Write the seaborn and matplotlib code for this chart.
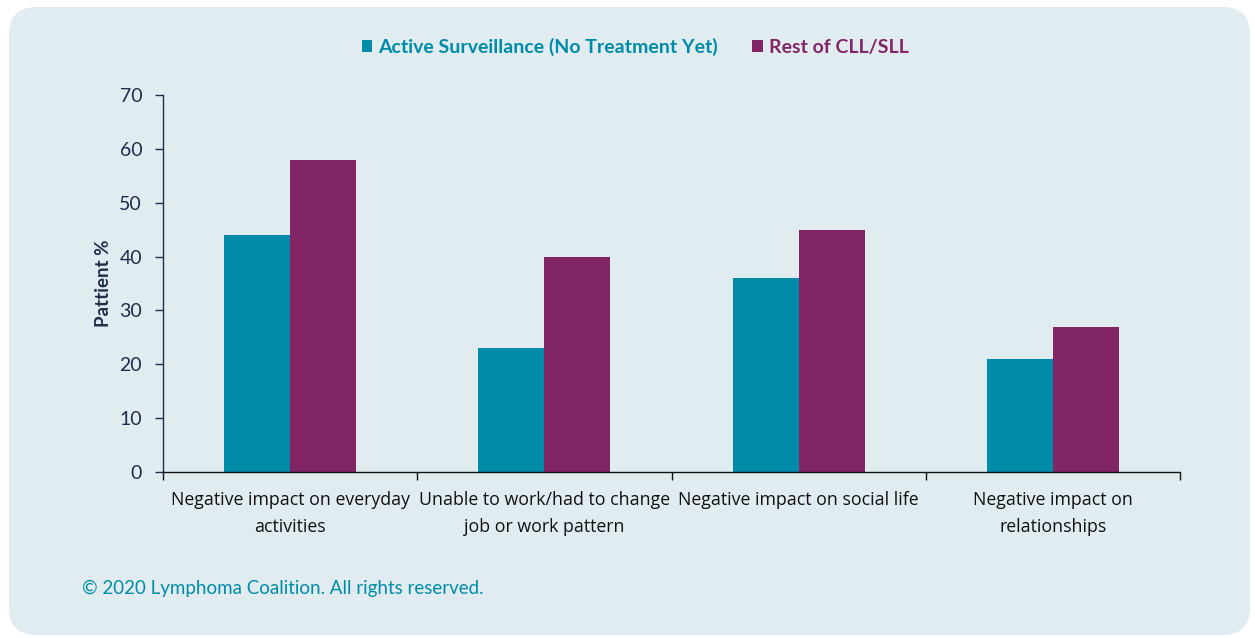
import pandas as pd
import seaborn as sns
import matplotlib.pyplot as plt
from matplotlib.patches import FancyBboxPatch, Patch

categories = [
    "Negative impact on everyday\nactivities",
    "Unable to work/had to change\njob or work pattern",
    "Negative impact on social life",
    "Negative impact on\nrelationships",
]
groups = ["Active Surveillance (No Treatment Yet)", "Rest of CLL/SLL"]
active_surveillance = [44, 23, 36, 21]
rest_of_cll = [58, 40, 45, 27]

teal = "#008ca8"
purple = "#822565"
panel_bg = "#e1ecf1"
navy = "#1f2d4a"

df = pd.DataFrame({
    "category": categories * 2,
    "group": [groups[0]] * 4 + [groups[1]] * 4,
    "value": active_surveillance + rest_of_cll,
})

sns.set_style("white")
plt.rcParams["font.family"] = ["Lato", "DejaVu Sans"]

fig = plt.figure(figsize=(12.55, 6.38), dpi=100)
fig.patch.set_facecolor("white")

# rounded light panel behind everything
panel = FancyBboxPatch((9 / 1255, 3 / 638), 1241 / 1255, 628 / 638,
                       boxstyle="round,pad=0,rounding_size=0.022",
                       transform=fig.transFigure, facecolor=panel_bg,
                       edgecolor="none", zorder=-10,
                       mutation_aspect=1255 / 638)
fig.patches.append(panel)

ax = fig.add_axes([163 / 1255, 1 - 472 / 638, 1017 / 1255, 377 / 638])
ax.set_facecolor("none")
ax.set_zorder(5)

sns.barplot(data=df, x="category", y="value", hue="group",
            palette=[teal, purple], width=0.52, saturation=1,
            linewidth=0, legend=False, ax=ax)

ax.set_xlim(-0.5, 3.5)
ax.set_ylim(0, 70)
ax.set_yticks(range(0, 71, 10))
ax.tick_params(axis="y", direction="out", length=6, width=1, color=navy,
               labelsize=14, labelcolor=navy, pad=9, left=True)
ax.set_xticks(range(4))
ax.set_xticklabels(categories, fontsize=12.8, color="#111111", linespacing=1.6)
ax.tick_params(axis="x", length=0, pad=14)
ax.set_xticks([-0.5, 0.5, 1.5, 2.5, 3.5], minor=True)
ax.tick_params(axis="x", which="minor", direction="out", length=6,
               width=1, color="#111111", bottom=True)
for lab in ax.get_xticklabels():
    lab.set_fontfamily(["Open Sans", "DejaVu Sans"])

ax.set_xlabel("")
ax.set_ylabel("Pattient %", fontsize=13.5, fontweight="bold", color=navy,
              labelpad=5)

for side in ["top", "right"]:
    ax.spines[side].set_visible(False)
ax.spines["left"].set_color(navy)
ax.spines["bottom"].set_color("#111111")
ax.spines["left"].set_linewidth(1)
ax.spines["bottom"].set_linewidth(1)

handles = [Patch(facecolor=teal, edgecolor="none"),
           Patch(facecolor=purple, edgecolor="none")]
leg = fig.legend(handles, groups, loc="center", bbox_to_anchor=(635 / 1255, 1 - 47 / 638),
                 ncol=2, frameon=False, handlelength=0.55, handleheight=0.55,
                 handletextpad=0.3, columnspacing=1.75,
                 prop={"weight": "bold", "size": 14})
for txt, col in zip(leg.get_texts(), [teal, purple]):
    txt.set_color(col)

fig.text(82 / 1255, 1 - 588 / 638, "\u00a9 2020 Lymphoma Coalition. All rights reserved.",
         color=teal, fontsize=13.5, ha="left", va="center")

fig.savefig("out.png", dpi=100, facecolor=fig.get_facecolor())
